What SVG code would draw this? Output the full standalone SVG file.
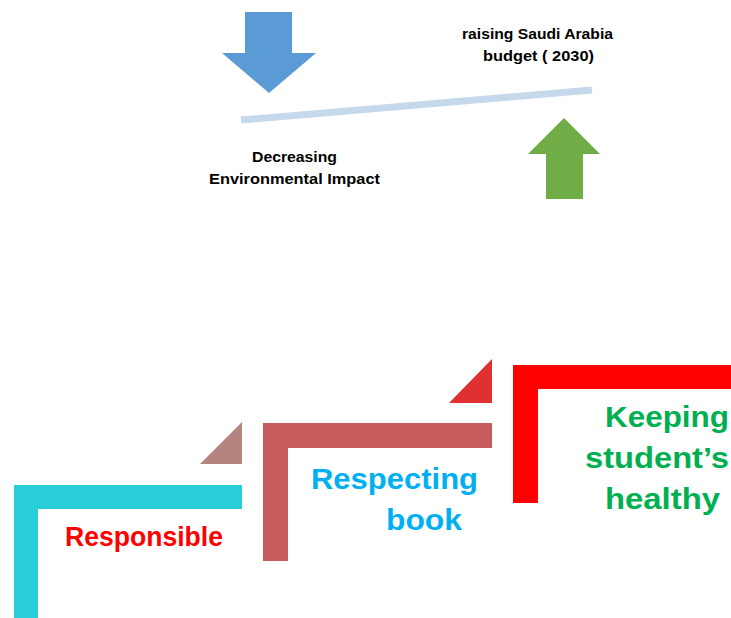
<svg xmlns="http://www.w3.org/2000/svg" width="731" height="618" viewBox="0 0 731 618">
<style>
.t{font-family:"Liberation Sans",Arial,sans-serif;font-weight:bold}
.s{font-size:15px;fill:#000}
.b{font-size:30px}
</style>
<rect width="731" height="618" fill="#fff"/>
<g id="down-arrow"><polygon points="245,12 292,12 292,53 316,53 269,93 222,53 245,53" fill="#5b9bd5"/></g>
<g id="up-arrow"><polygon points="564,118 600,154 583,154 583,199 546,199 546,154 528,154" fill="#70ad47"/></g>
<g id="connectors"><line x1="241" y1="120" x2="592" y2="90" stroke="#c6d8ec" stroke-width="7"/></g>
<g id="label-raising">
<text class="t s" x="462" y="39" textLength="151" lengthAdjust="spacingAndGlyphs">raising Saudi Arabia</text>
<text class="t s" x="483" y="61" textLength="111" lengthAdjust="spacingAndGlyphs">budget ( 2030)</text>
</g>
<g id="label-decreasing">
<text class="t s" x="252" y="162" textLength="85" lengthAdjust="spacingAndGlyphs">Decreasing</text>
<text class="t s" x="209" y="184" textLength="171" lengthAdjust="spacingAndGlyphs">Environmental Impact</text>
</g>
<g id="step1">
<path d="M14,485 H242 V509 H38 V618 H14 Z" fill="#29cdd8"/>
<polygon points="242,422 242,464 200,464" fill="#b5847f"/>
<text class="t" x="65" y="546" font-size="27" fill="#ff0000" textLength="158" lengthAdjust="spacingAndGlyphs">Responsible</text>
</g>
<g id="step2">
<path d="M263,423 H492 V448 H288 V561 H263 Z" fill="#c75c5c"/>
<polygon points="492,359 492,403 449,403" fill="#e03030"/>
<text class="t b" x="311" y="489" fill="#00b0f0" textLength="167" lengthAdjust="spacingAndGlyphs">Respecting</text>
<text class="t b" x="386" y="530" fill="#00b0f0" textLength="76" lengthAdjust="spacingAndGlyphs">book</text>
</g>
<g id="step3">
<path d="M513,365 H731 V389 H538 V503 H513 Z" fill="#ff0000"/>
<text class="t b" x="605" y="427" fill="#00b050" textLength="124" lengthAdjust="spacingAndGlyphs">Keeping</text>
<text class="t b" x="585" y="468" fill="#00b050" textLength="144" lengthAdjust="spacingAndGlyphs">student’s</text>
<text class="t b" x="605" y="509" fill="#00b050" textLength="115" lengthAdjust="spacingAndGlyphs">healthy</text>
</g>
</svg>
